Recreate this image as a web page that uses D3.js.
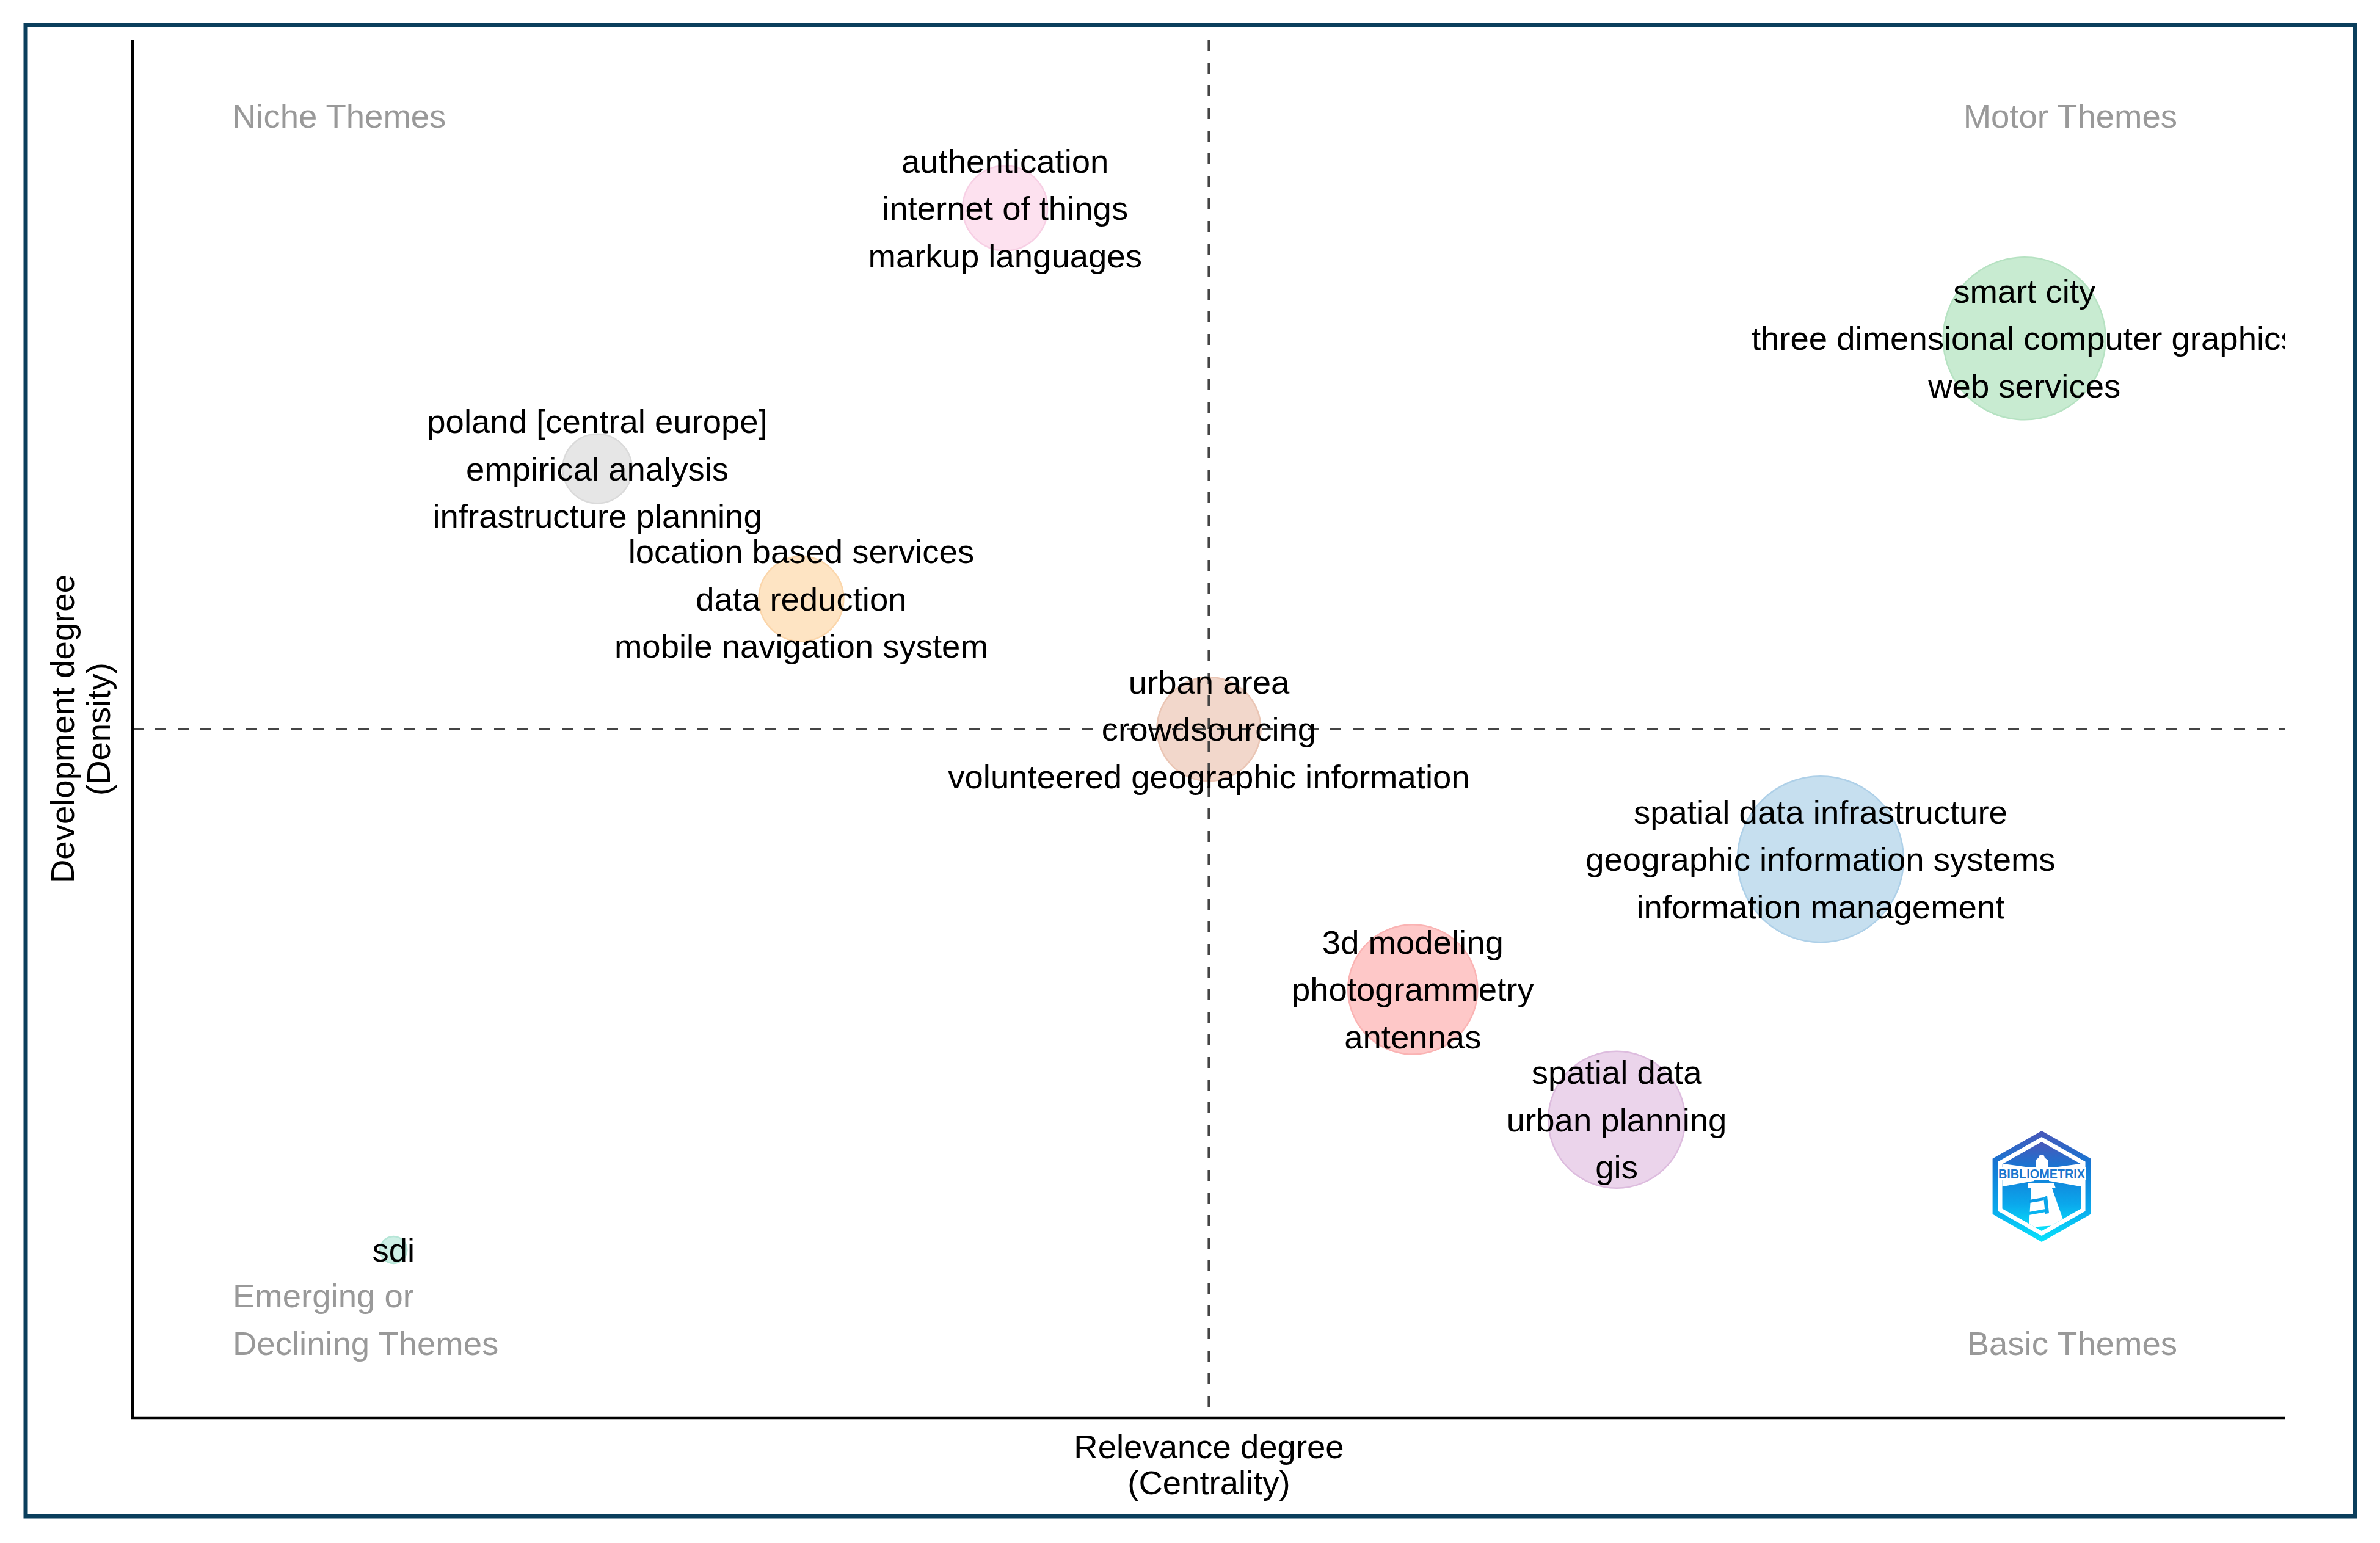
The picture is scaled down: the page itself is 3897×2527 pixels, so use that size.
<!DOCTYPE html>
<html>
<head>
<meta charset="utf-8">
<script src="https://cdn.jsdelivr.net/npm/d3@7"></script>
<style>
  html, body { margin: 0; padding: 0; background: #ffffff; }
  svg { display: block; }
</style>
</head>
<body>
<div id="chart"></div>
<script>
// ---------------- DATA ----------------
const clusterLabels = [
  ["authentication", "internet of things", "markup languages"],
  ["smart city", "three dimensional computer graphics", "web services"],
  ["poland [central europe]", "empirical analysis", "infrastructure planning"],
  ["location based services", "data reduction", "mobile navigation system"],
  ["urban area", "crowdsourcing", "volunteered geographic information"],
  ["spatial data infrastructure", "geographic information systems", "information management"],
  ["3d modeling", "photogrammetry", "antennas"],
  ["spatial data", "urban planning", "gis"],
  ["sdi"]
];
const centralityRank = [4, 9, 2, 3, 5, 8, 6, 7, 1];
const densityRank    = [9, 8, 7, 6, 5, 4, 3, 2, 1];
const clusterFreq    = [30, 110, 20, 30, 45, 115, 70, 78, 3];
const clusterFill    = ["#fde1ef", "#c8ebd1", "#e6e6e6", "#fee4c3", "#f2d7cb", "#c6dfef", "#fec8c8", "#ebd4eb", "#cdefe5"];
const clusterStroke  = ["#f7cfe4", "#b6e2c2", "#dadada", "#fbd6ab", "#eac5b4", "#aed0e8", "#fab3b3", "#ddbcde", "#b6e6d7"];

const quadrantNames = ["Niche Themes", "Motor Themes", "Emerging or", "Declining Themes", "Basic Themes"];
const xTitle = ["Relevance degree", "(Centrality)"];
const yTitle = ["Development degree", "(Density)"];

const xDomain = [-0.28, 10.28];
const yDomain = [-0.29, 10.29];
const freqMax = 115;

// ---------------- LAYOUT ----------------
const W = 3897, H = 2527;
const panel = { left: 217, right: 3742, top: 66, bottom: 2322 };
const FONT = "'Liberation Sans', Arial, Helvetica, sans-serif";
const fs = 54.5;
const lineGap = 77.5;

const svg = d3.select("#chart").append("svg")
  .attr("width", W).attr("height", H)
  .attr("viewBox", `0 0 ${W} ${H}`);

svg.append("rect").attr("width", W).attr("height", H).attr("fill", "#ffffff");

// outer frame
svg.append("rect")
  .attr("x", 42).attr("y", 40.5).attr("width", 3856 - 42).attr("height", 2483 - 40.5)
  .attr("fill", "none").attr("stroke", "#0a3e5c").attr("stroke-width", 7);

const x = d3.scaleLinear().domain(xDomain).range([panel.left, panel.right]);
const y = d3.scaleLinear().domain(yDomain).range([panel.bottom, panel.top]);
const r = d3.scaleSqrt().domain([0, freqMax]).range([0, 136]);

const data = clusterLabels.map((lab, i) => ({
  labels: lab, cx: centralityRank[i], dy: densityRank[i], freq: clusterFreq[i],
  fill: clusterFill[i], stroke: clusterStroke[i]
}));

const meanX = d3.mean(centralityRank);
const meanY = d3.mean(densityRank);

const defs = svg.append("defs");
defs.append("clipPath").attr("id", "panelClip")
  .append("rect")
  .attr("x", panel.left).attr("y", panel.top)
  .attr("width", panel.right - panel.left).attr("height", panel.bottom - panel.top);

// bubbles
const gBub = svg.append("g").attr("clip-path", "url(#panelClip)");
gBub.selectAll("circle").data(data).join("circle")
  .attr("cx", d => x(d.cx)).attr("cy", d => y(d.dy))
  .attr("r", d => r(d.freq))
  .attr("fill", d => d.fill).attr("stroke", d => d.stroke).attr("stroke-width", 2.5);

// mean lines
svg.append("line")
  .attr("x1", x(meanX)).attr("x2", x(meanX))
  .attr("y1", panel.top).attr("y2", panel.bottom)
  .attr("stroke", "#444444").attr("stroke-width", 4.2).attr("stroke-dasharray", "18 19");
svg.append("line")
  .attr("x1", panel.left).attr("x2", panel.right)
  .attr("y1", y(meanY)).attr("y2", y(meanY))
  .attr("stroke", "#444444").attr("stroke-width", 4.2).attr("stroke-dasharray", "18 19");

// labels
const gLab = svg.append("g").attr("clip-path", "url(#panelClip)")
  .attr("font-family", FONT).attr("font-size", fs).attr("fill", "#000000")
  .attr("text-anchor", "middle");
data.forEach(d => {
  const n = d.labels.length;
  d.labels.forEach((t, j) => {
    gLab.append("text")
      .attr("x", x(d.cx))
      .attr("y", y(d.dy) + 19 + (j - (n - 1) / 2) * lineGap)
      .text(t);
  });
});

// axes lines
svg.append("line")
  .attr("x1", panel.left).attr("x2", panel.left)
  .attr("y1", panel.top).attr("y2", panel.bottom + 2)
  .attr("stroke", "#000").attr("stroke-width", 4.5);
svg.append("line")
  .attr("x1", panel.left - 2).attr("x2", panel.right)
  .attr("y1", panel.bottom).attr("y2", panel.bottom)
  .attr("stroke", "#000").attr("stroke-width", 4.5);

// quadrant names
const gQ = svg.append("g").attr("font-family", FONT).attr("font-size", fs).attr("fill", "#999999");
gQ.append("text").attr("x", 380).attr("y", 209).text(quadrantNames[0]);
gQ.append("text").attr("x", 3565).attr("y", 209).attr("text-anchor", "end").text(quadrantNames[1]);
gQ.append("text").attr("x", 381).attr("y", 2141).text(quadrantNames[2]);
gQ.append("text").attr("x", 381).attr("y", 2219).text(quadrantNames[3]);
gQ.append("text").attr("x", 3565).attr("y", 2219).attr("text-anchor", "end").text(quadrantNames[4]);

// axis titles
const gT = svg.append("g").attr("font-family", FONT).attr("font-size", fs).attr("fill", "#000")
  .attr("text-anchor", "middle");
gT.append("text").attr("x", (panel.left + panel.right) / 2).attr("y", 2388).text(xTitle[0]);
gT.append("text").attr("x", (panel.left + panel.right) / 2).attr("y", 2447).text(xTitle[1]);
const yc = (panel.top + panel.bottom) / 2;
gT.append("text").attr("transform", `translate(121,${yc}) rotate(-90)`).text(yTitle[0]);
gT.append("text").attr("transform", `translate(180,${yc}) rotate(-90)`).text(yTitle[1]);

// ---------------- LOGO ----------------
const lx = 3343, ly = 1943;
const grad = defs.append("linearGradient").attr("id", "logoGrad")
  .attr("x1", 0).attr("y1", 0).attr("x2", 0).attr("y2", 1);
grad.append("stop").attr("offset", "0%").attr("stop-color", "#4a57b8");
grad.append("stop").attr("offset", "30%").attr("stop-color", "#1577d4");
grad.append("stop").attr("offset", "70%").attr("stop-color", "#0aa8ec");
grad.append("stop").attr("offset", "100%").attr("stop-color", "#08e4fc");

function hex(R) {
  const pts = [];
  for (let k = 0; k < 6; k++) {
    const a = -Math.PI / 2 + k * Math.PI / 3;
    pts.push([lx + R * Math.cos(a) * 1.02, ly + R * Math.sin(a)]);
  }
  return pts.map(p => p.join(",")).join(" ");
}
const gLogo = svg.append("g");
gLogo.append("polygon").attr("points", hex(91)).attr("fill", "url(#logoGrad)");
gLogo.append("polygon").attr("points", hex(81)).attr("fill", "#ffffff");
gLogo.append("polygon").attr("points", hex(73)).attr("fill", "url(#logoGrad)");
defs.append("clipPath").attr("id", "innerHex").append("polygon").attr("points", hex(73));
const gIn = gLogo.append("g").attr("clip-path", "url(#innerHex)");
// light beams
gIn.append("polygon").attr("points", `${lx-70},1905 ${lx-12},1913 ${lx-12},1934 ${lx-70},1944`).attr("fill", "#ffffff");
gIn.append("polygon").attr("points", `${lx+70},1905 ${lx+12},1913 ${lx+12},1934 ${lx+70},1944`).attr("fill", "#ffffff");
// lamp
gIn.append("path").attr("d", `M${lx-10},1912 L${lx-10},1900 L${lx-5},1896 L${lx-3},1891 L${lx+3},1891 L${lx+5},1896 L${lx+10},1900 L${lx+10},1912 Z`).attr("fill", "#ffffff");
// tower
gIn.append("path").attr("d", `M${lx-22},1938 L${lx+20},1938 L${lx+23},1946 L${lx+17},1946 L${lx+38},2006 L${lx-21},2010 L${lx-17},1946 L${lx-22},1946 Z`).attr("fill", "#ffffff");
// stripes on tower
gIn.append("path").attr("d", `M${lx-20},1965 L${lx+3},1961 L${lx+4},1966 L${lx-20},1970 Z`).attr("fill", "#0a9be6");
gIn.append("path").attr("d", `M${lx-21},1985 L${lx+6},1980 L${lx+7},1985 L${lx-21},1990 Z`).attr("fill", "#08b4f0");
gIn.append("path").attr("d", `M${lx+3},1961 L${lx+9},1958 L${lx+12},1987 L${lx+6},1988 Z`).attr("fill", "#0aa6ea");
// text band
gLogo.append("rect").attr("x", lx - 72).attr("y", 1912).attr("width", 144).attr("height", 21).attr("fill", "#ffffff");
gLogo.append("text").attr("x", lx).attr("y", 1930).attr("text-anchor", "middle")
  .attr("font-family", FONT).attr("font-weight", "bold").attr("font-size", 22)
  .attr("textLength", 142).attr("lengthAdjust", "spacingAndGlyphs")
  .attr("fill", "#1a76cf").text("BIBLIOMETRIX");
</script>
</body>
</html>
